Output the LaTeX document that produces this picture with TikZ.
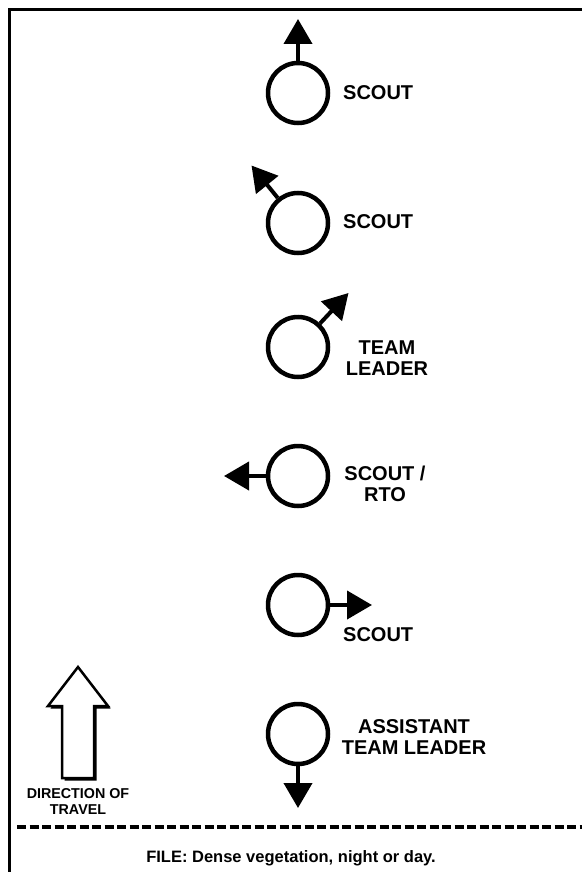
\documentclass[tikz,border=0pt]{standalone}
\usepackage{fontspec}
\setmainfont{Liberation Sans}
\usetikzlibrary{arrows.meta}
\begin{document}
\begin{tikzpicture}[x=1pt,y=-1pt,
  person/.style={circle,draw=black,line width=4.5pt,minimum size=60pt,inner sep=0pt,fill=white},
  facing/.style={line width=4pt,-{Triangle[length=25pt,width=28pt]}},
  lbl/.style={font=\bfseries\fontsize{20}{21}\selectfont,inner sep=0pt,align=center},
  small/.style={font=\bfseries\fontsize{14.3}{15.5}\selectfont,inner sep=0pt,align=center},
  captionstyle/.style={font=\bfseries\fontsize{16.5}{18}\selectfont,inner sep=0pt},
  frame/.style={line width=3pt},
  separator/.style={line width=3.5pt,dash pattern=on 9pt off 3.5pt}]
\path[use as bounding box] (0,0) rectangle (582,872);
\fill[white] (0,0) rectangle (582,872);
% frame
\draw[frame] (9,872) -- (9,10) -- (582,10);
% tips
\coordinate (t1) at (298,19);
\coordinate (t2) at (251.5,165.5);
\coordinate (t3) at (348.5,293);
\coordinate (t4) at (224,476);
\coordinate (t5) at (372,605);
\coordinate (t6) at (298,808);
% persons
\node[person] (c1) at (298,93) {};
\node[person] (c2) at (298,223) {};
\node[person] (c3) at (298,347) {};
\node[person] (c4) at (298,476) {};
\node[person] (c5) at (298,605) {};
\node[person] (c6) at (298,734) {};
\draw[facing] (c1) -- (t1);
\draw[facing] (c2) -- (t2);
\draw[facing] (c3) -- (t3);
\draw[facing] (c4) -- (t4);
\draw[facing] (c5) -- (t5);
\draw[facing] (c6) -- (t6);
% labels
\node[lbl,anchor=west] (l1) at (343,93) {SCOUT};
\node[lbl,anchor=west] (l2) at (343,222) {SCOUT};
\node[lbl] (l3) at (387,358) {TEAM\\LEADER};
\node[lbl] (l4) at (385,484) {SCOUT /\\RTO};
\node[lbl,anchor=west] (l5) at (343,635) {SCOUT};
\node[lbl] (l6) at (414,737.5) {ASSISTANT\\TEAM LEADER};
% direction of travel arrow
\begin{scope}[shift={(2.5,2.5)}]
\fill[black] (78,667) -- (108,706) -- (94,706) -- (94,778) -- (62,778) -- (62,706) -- (48,706) -- cycle;
\end{scope}
\draw[line width=2.5pt,fill=white,line join=miter] (78,667) -- (108,706) -- (94,706) -- (94,778) -- (62,778) -- (62,706) -- (48,706) -- cycle;
\node[small] (dir) at (78,801.5) {DIRECTION OF\\TRAVEL};
% separator and caption
\draw[separator] (17,827) -- (582,827);
\node[captionstyle] (cap) at (291,858) {FILE: Dense vegetation, night or day.};
\end{tikzpicture}
\end{document}
